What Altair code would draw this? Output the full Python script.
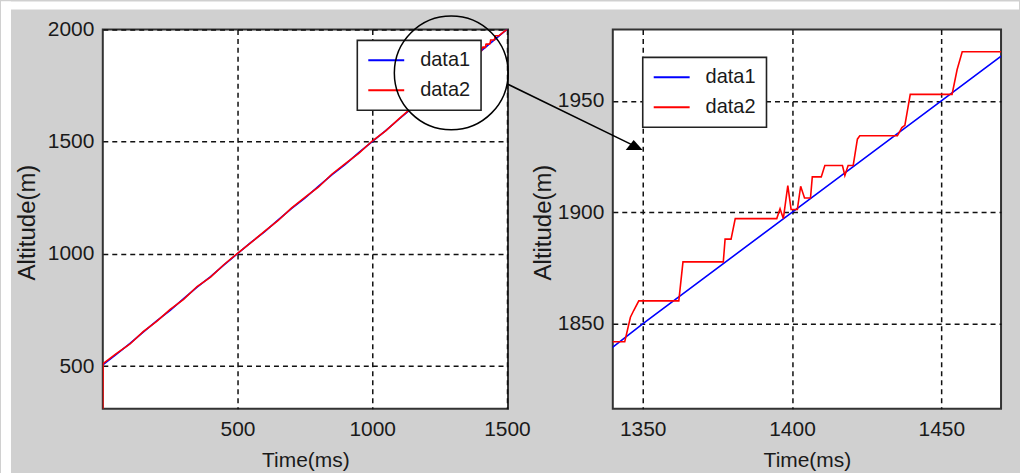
import altair as alt
import pandas as pd

# ---------------- data ----------------
series_names = ["data1", "data2"]
series_colors = ["#0000ff", "#ff0000"]

# data1 (reference altitude), sampled every 50 ms
data1_time = [0, 50, 100, 150, 200, 250, 300, 350, 400, 450, 500, 550, 600, 650, 700,
              750, 800, 850, 900, 950, 1000, 1050, 1100, 1150, 1200, 1250, 1300, 1350,
              1400, 1450, 1500]
data1_alt = [506, 553, 601, 652, 702, 749, 801, 852, 899, 951, 1001, 1052, 1098, 1151, 1202,
             1249, 1301, 1352, 1399, 1451, 1500, 1549, 1601, 1652, 1702, 1750, 1798, 1850,
             1900, 1950, 2000]

# data2 (measured altitude) - overview part
data2_time_overview = [0, 1, 50, 100, 150, 200, 250, 300, 350, 400, 450, 500, 550, 600, 650,
                       700, 750, 800, 850, 900, 950, 1000, 1050, 1100, 1150, 1200, 1250, 1300]
data2_alt_overview = [300, 512, 556, 598, 654, 700, 753, 798, 855, 897, 953, 1003, 1050, 1101, 1148,
                      1204, 1252, 1297, 1355, 1402, 1448, 1503, 1548, 1603, 1655, 1704, 1752, 1801]
# data2 - detail visible in the zoomed panel
data2_time_zoom = [1339.7, 1344.0, 1345.9, 1347.0, 1348.7, 1362.1, 1363.5, 1377.0, 1377.6, 1379.6,
                   1381.0, 1394.9, 1396.0, 1397.1, 1398.6, 1399.7, 1401.8, 1402.9, 1404.2, 1406.2,
                   1406.8, 1409.8, 1411.0, 1416.9, 1417.7, 1418.8, 1420.5, 1421.9, 1422.7, 1435.3,
                   1436.8, 1437.8, 1439.6, 1453.6, 1455.3, 1457.0, 1470.4]
data2_alt_zoom = [1842, 1842, 1853, 1856, 1860.3, 1860.3, 1877.8, 1877.8, 1888, 1888,
                  1897.2, 1897.2, 1901.6, 1897.2, 1912, 1901.3, 1901.3, 1911.7, 1906.4, 1906.4,
                  1915.9, 1915.9, 1921, 1921, 1916.5, 1921, 1921, 1932.8, 1934.3, 1934.3,
                  1938, 1939, 1952.9, 1952.9, 1964, 1972, 1972]
data2_time_end = [1500]
data2_alt_end = [2000]

# axes
left_x_domain = [0, 1504]
left_y_domain = [311, 2000]
right_x_domain = [1340, 1470]
right_y_domain = [1812, 1982]
left_x_ticks = [500, 1000, 1500]
left_y_ticks = [500, 1000, 1500, 2000]
right_x_ticks = [1350, 1400, 1450]
right_y_ticks = [1850, 1900, 1950]

# callout (circle around the zoomed region and arrow), in zoom-panel data units
callout_x = [1285.9]
callout_y = [1962.5]
arrow_x = [1304.9]
arrow_y = [1957.4]
arrow_x2 = [1346.7]
arrow_y2 = [1930.1]
head_x = [1350.0]
head_y = [1927.9]

# ---------------- layout / style ----------------
FONT = "Liberation Sans"
TXT = "#1a1a1a"
LEFT_PAD, TOP_PAD = 102, 28
LEFT_W, RIGHT_W, H = 406, 389, 380
SPACING = 105
PAGE_W, PAGE_H = 1020, 473

df = pd.concat([
    pd.DataFrame({"time": data1_time, "alt": data1_alt, "series": series_names[0]}),
    pd.DataFrame({"time": data2_time_overview + data2_time_zoom + data2_time_end,
                  "alt": data2_alt_overview + data2_alt_zoom + data2_alt_end,
                  "series": series_names[1]}),
], ignore_index=True)


def encodings(xdom, ydom, xt, yt, ytitle_x):
    x = alt.X("time:Q", scale=alt.Scale(domain=xdom, nice=False, zero=False),
              axis=alt.Axis(values=xt, format="d", title="Time(ms)",
                            titleBaseline="alphabetic", titleY=58))
    y = alt.Y("alt:Q", scale=alt.Scale(domain=ydom, nice=False, zero=False),
              axis=alt.Axis(values=yt, format="d", title="Altitude(m)", titleFontSize=24,
                            titleBaseline="middle", titleX=ytitle_x, titleY=193,
                            labelPadding=9))
    return x, y


def line_layer(x, y, lx, ly):
    return alt.Chart(df).mark_line(clip=True, strokeWidth=1.6).encode(
        x=x, y=y,
        color=alt.Color("series:N", scale=alt.Scale(domain=series_names, range=series_colors),
                        legend=alt.Legend(orient="none", legendX=lx, legendY=ly, title=None,
                                          fillColor="white", strokeColor="#222222",
                                          padding=10, symbolType="M-2,0H2", symbolSize=324,
                                          symbolStrokeWidth=2, symbolOffset=9,
                                          labelOffset=24, rowPadding=10,
                                          labelFont=FONT, labelFontSize=20,
                                          labelColor=TXT,
                                          labelExpr="datum.label + '    '")),
    )


lx_enc, ly_enc = encodings(left_x_domain, left_y_domain, left_x_ticks, left_y_ticks, -75.5)
left = line_layer(lx_enc, ly_enc, 255, 11).properties(width=LEFT_W, height=H)

rx_enc, ry_enc = encodings(right_x_domain, right_y_domain, right_x_ticks, right_y_ticks, -69)

circle = alt.Chart(pd.DataFrame({"time": callout_x, "alt": callout_y})).mark_point(
    shape="circle", size=114 * 114, filled=False, stroke="black", strokeWidth=1.5,
    opacity=1, clip=False).encode(x=rx_enc, y=ry_enc)

arrow = alt.Chart(pd.DataFrame({"time": arrow_x, "alt": arrow_y,
                                "time2": arrow_x2, "alt2": arrow_y2})).mark_rule(
    color="black", strokeWidth=1.5, clip=False).encode(
    x=rx_enc, y=ry_enc, x2="time2:Q", y2="alt2:Q")

head = alt.Chart(pd.DataFrame({"time": head_x, "alt": head_y})).mark_point(
    shape="M0,0L-17,0L-9,-10Z", size=4, filled=True, color="black", opacity=1,
    clip=False).encode(x=rx_enc, y=ry_enc)

# white page margin above and left of the grey figure area
ox = -(LEFT_PAD + LEFT_W + SPACING)
oy = -TOP_PAD
strip_df = pd.DataFrame({"k": [0]})
top_strip = alt.Chart(strip_df).mark_rect(color="white", clip=False).encode(
    x=alt.value(ox), x2=alt.value(ox + PAGE_W), y=alt.value(oy), y2=alt.value(oy + 8))
left_strip = alt.Chart(strip_df).mark_rect(color="white", clip=False).encode(
    x=alt.value(ox), x2=alt.value(ox + 10), y=alt.value(oy), y2=alt.value(oy + PAGE_H))

right = alt.layer(
    line_layer(rx_enc, ry_enc, 30, 28),
    circle, arrow, head, top_strip, left_strip,
).properties(width=RIGHT_W, height=H)

chart = alt.hconcat(left, right, spacing=SPACING, bounds="flush").resolve_scale(
    color="independent", x="independent", y="independent"
).resolve_legend(color="independent").properties(
    background="#d0d0d0", padding=0
).configure_view(
    stroke="#333333", strokeWidth=2, fill="white"
).configure_legend(
    strokeWidth=1.6
).configure_axis(
    grid=True, gridColor="#111111", gridDash=[5, 4], gridWidth=1.5, gridOpacity=1,
    domain=False, ticks=False, labelFont=FONT, labelFontSize=21, labelColor=TXT,
    labelFlush=False, labelOverlap=False, titleColor=TXT, titleFontWeight="normal",
    titleFont=FONT, titleFontSize=21, titlePadding=0
).configure_axisX(labelPadding=10)

chart.save("out.html", embed_options={"renderer": "svg", "actions": False})
